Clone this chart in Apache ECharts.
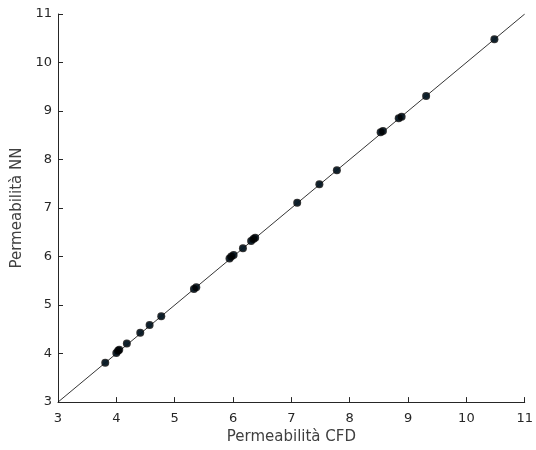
<!DOCTYPE html>
<html><head><meta charset="utf-8">
<script src="https://cdn.jsdelivr.net/npm/echarts@6/dist/echarts.min.js"></script>
<style>html,body{margin:0;padding:0;background:#fff}#c{width:536px;height:450px}</style>
</head><body><div id="c"></div>
<script>
const cfdValues = [3.81, 4.00, 4.03, 4.05, 4.18, 4.41, 4.57, 4.77, 5.33, 5.37, 5.94, 5.97, 6.01, 6.17, 6.31, 6.35, 6.38, 7.10, 7.48, 7.78, 8.53, 8.57, 8.84, 8.89, 9.31, 10.48];
const nnValues  = [3.81, 4.01, 4.06, 4.08, 4.21, 4.43, 4.59, 4.77, 5.33, 5.37, 5.96, 6.00, 6.03, 6.17, 6.32, 6.36, 6.39, 7.11, 7.49, 7.78, 8.56, 8.59, 8.85, 8.88, 9.31, 10.48];
const refLine = [[3, 3], [11, 11]];
const ticks = [3, 4, 5, 6, 7, 8, 9, 10, 11];

const chart = echarts.init(document.getElementById('c'));
const axisCommon = {
  type: 'value', min: ticks[0], max: ticks[ticks.length - 1], interval: 1,
  splitLine: {show: false},
  axisLine: {show: true, lineStyle: {color: '#262626', width: 1}},
  axisTick: {show: true, inside: true, length: 5, lineStyle: {color: '#262626'}},
  nameLocation: 'middle',
  nameTextStyle: {color: '#404040', fontSize: 15, fontFamily: 'DejaVu Sans'}
};
chart.setOption({
  animation: false,
  grid: {left: 58, right: 10, top: 14, bottom: 47, containLabel: false},
  xAxis: Object.assign({}, axisCommon, {name: 'Permeabilità CFD', nameGap: 25,
    axisLabel: {color: '#262626', fontSize: 13, fontFamily: 'DejaVu Sans', margin: 10}}),
  yAxis: Object.assign({}, axisCommon, {name: 'Permeabilità NN', nameGap: 31,
    axisLabel: {color: '#262626', fontSize: 13, fontFamily: 'DejaVu Sans', margin: 6}}),
  series: [
    {type: 'line', data: refLine, symbol: 'none', lineStyle: {color: '#000', width: 0.8}, silent: true},
    {type: 'scatter', data: cfdValues.map((v, i) => [v, nnValues[i]]), symbol: 'circle', symbolSize: 6, itemStyle: {color: '#2b8fd6'}, z: 3},
    {type: 'scatter', data: cfdValues.map((v, i) => [v, nnValues[i]]), symbol: 'circle', symbolSize: 8, itemStyle: {color: '#000'}, z: 4}
  ]
});
</script></body></html>
